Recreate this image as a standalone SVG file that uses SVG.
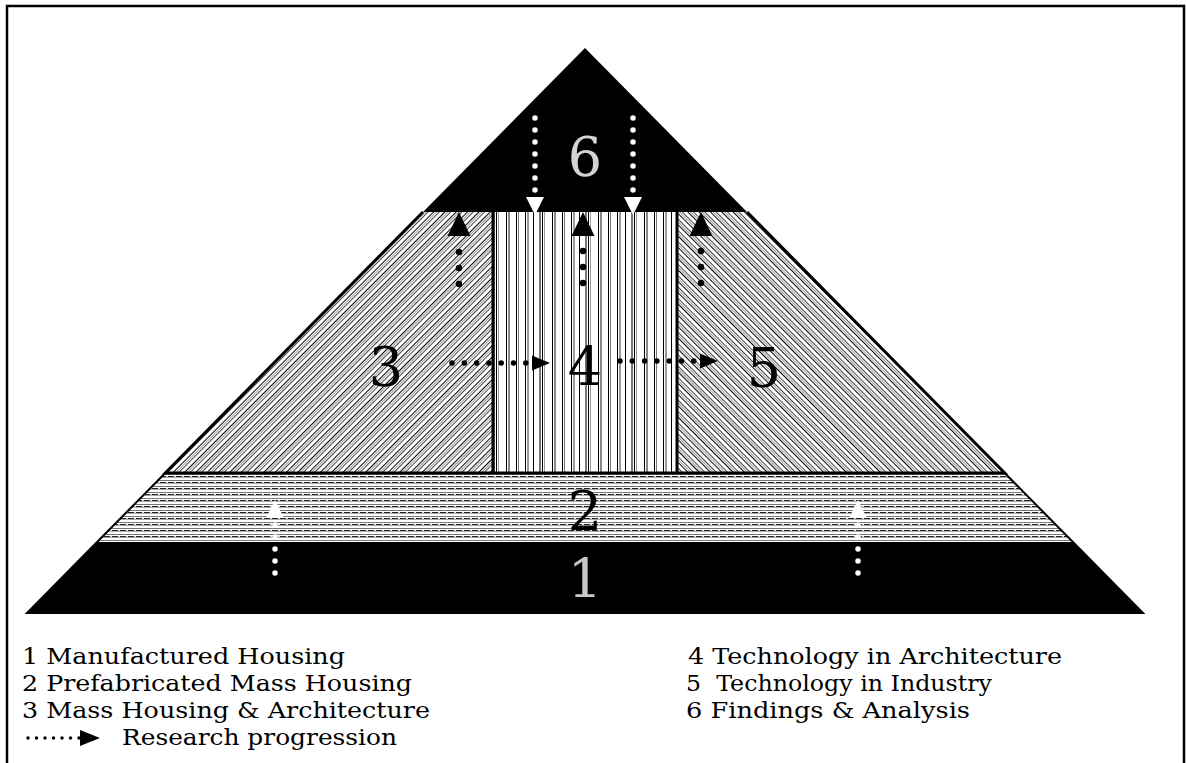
<svg xmlns="http://www.w3.org/2000/svg" width="1187" height="763" viewBox="0 0 1187 763">
<style>
.num{font-family:"DejaVu Serif","Liberation Serif",serif;font-size:54px;text-anchor:middle}
.leg{font-family:"DejaVu Serif","Liberation Serif",serif;font-size:23px;fill:#000}
.edge{fill:none;stroke:#000;stroke-width:3}
.dotB{fill:none;stroke:#000;stroke-linecap:round}
.dotW{fill:none;stroke:#fff;stroke-linecap:round}
</style>
<defs>
<pattern id="hatchL" patternUnits="userSpaceOnUse" width="8" height="8" patternTransform="rotate(45)">
<rect width="8" height="8" fill="#fff"/>
<rect x="0" y="0" width="1" height="8" fill="#000"/>
<rect x="2" y="0" width="1" height="8" fill="#999"/>
<rect x="4" y="0" width="1" height="8" fill="#444"/>
</pattern>
<pattern id="hatchR" patternUnits="userSpaceOnUse" width="8" height="8" patternTransform="rotate(-45)">
<rect width="8" height="8" fill="#fff"/>
<rect x="0" y="0" width="1" height="8" fill="#000"/>
<rect x="2" y="0" width="1" height="8" fill="#999"/>
<rect x="4" y="0" width="1" height="8" fill="#444"/>
</pattern>
<pattern id="vert" patternUnits="userSpaceOnUse" width="46" height="10" x="493">
<rect width="46" height="10" fill="#fff"/>
<rect x="0" width="2" height="10" fill="#777"/>
<rect x="3" width="1" height="10" fill="#000"/>
<rect x="5" width="1" height="10" fill="#999"/>
<rect x="13" width="1" height="10" fill="#000"/>
<rect x="15" width="2" height="10" fill="#888"/>
<rect x="23" width="1" height="10" fill="#000"/>
<rect x="25" width="1" height="10" fill="#777"/>
<rect x="32" width="1" height="10" fill="#000"/>
<rect x="34" width="2" height="10" fill="#999"/>
<rect x="40" width="1" height="10" fill="#000"/>
</pattern>
<pattern id="horiz" patternUnits="userSpaceOnUse" width="8" height="6" y="474">
<rect width="8" height="6" fill="#fff"/>
<rect y="0" width="8" height="1" fill="#777"/>
<rect y="2" width="6" height="1" fill="#222"/>
<rect x="6" y="2" width="2" height="1" fill="#ddd"/>
<rect y="3" width="8" height="1" fill="#aaa"/>
</pattern>
<marker id="headB" markerUnits="userSpaceOnUse" markerWidth="24" markerHeight="24" refX="0" refY="11" orient="auto" viewBox="0 0 23 22">
<path d="M0,0 L23,11 L0,22 z" fill="#000"/>
</marker>
<marker id="headBs" markerUnits="userSpaceOnUse" markerWidth="18" markerHeight="16" refX="0" refY="7" orient="auto" viewBox="0 0 17 14">
<path d="M0,0 L17,7 L0,14 z" fill="#000"/>
</marker>
<marker id="headW" markerUnits="userSpaceOnUse" markerWidth="18" markerHeight="18" refX="0" refY="8" orient="auto" viewBox="0 0 16 16">
<path d="M0,0 L16,8 L0,16 z" fill="#fff"/>
</marker>
<marker id="headL" markerUnits="userSpaceOnUse" markerWidth="20" markerHeight="16" refX="0" refY="7.5" orient="auto" viewBox="0 0 19 15">
<path d="M0,0 L19,7.5 L0,15 z" fill="#000"/>
</marker>
</defs>
<rect x="0" y="0" width="1187" height="763" fill="#fff"/>
<rect id="frame" x="7" y="6" width="1177" height="800" fill="none" stroke="#000" stroke-width="2.5"/>

<g id="level1">
<polygon points="97.1,542 1072.9,542 1143,613 27,613" fill="#000"/>
<text class="num" x="585" y="598" fill="#c8c8c8">1</text>
</g>
<g id="level2">
<polygon points="165.3,473 1004.7,473 1072.9,542 97.1,542" fill="url(#horiz)"/>
<text class="num" x="585" y="530" fill="#000">2</text>
</g>
<g id="level3">
<polygon points="423,212 493,212 493,473 165.3,473" fill="url(#hatchL)"/>
<text class="num" x="386" y="386" fill="#000">3</text>
</g>
<g id="level4">
<rect x="493" y="212" width="184" height="261" fill="url(#vert)"/>
<text class="num" x="585" y="386" fill="#000">4</text>
</g>
<g id="level5">
<polygon points="677,212 747,212 1004.7,473 677,473" fill="url(#hatchR)"/>
<text class="num" x="764" y="387" fill="#000">5</text>
</g>
<g id="level6">
<polygon points="585,48 747,212 423,212" fill="#000"/>
<text class="num" x="585" y="176" fill="#d4d4d4">6</text>
</g>
<g id="outlines">
<polyline class="edge" points="423,212 165.3,473 1004.7,473 747,212"/>
<line class="edge" x1="493" y1="212" x2="493" y2="473"/>
<line class="edge" x1="677" y1="212" x2="677" y2="473"/>
<polyline points="165.3,473 97.1,542 27,613 1143,613 1072.9,542 1004.7,473" fill="none" stroke="#000" stroke-width="2"/>
</g>

<g id="connectors">
<path class="dotB" d="M459,284 V236" stroke-width="6.5" stroke-dasharray="0 16" marker-end="url(#headB)"/>
<path class="dotB" d="M583,283 V236" stroke-width="6.5" stroke-dasharray="0 16" marker-end="url(#headB)"/>
<path class="dotB" d="M701,283 V236" stroke-width="6.5" stroke-dasharray="0 16" marker-end="url(#headB)"/>
<path class="dotB" d="M452,363 H532" stroke-width="5.5" stroke-dasharray="0 12.3" marker-end="url(#headBs)"/>
<path class="dotB" d="M620,361 H700" stroke-width="5.5" stroke-dasharray="0 12.3" marker-end="url(#headBs)"/>
<path class="dotW" d="M535,118 V197" stroke-width="5.5" stroke-dasharray="0 12" marker-end="url(#headW)"/>
<path class="dotW" d="M633,118 V197" stroke-width="5.5" stroke-dasharray="0 12" marker-end="url(#headW)"/>
<path class="dotW" d="M275,573 V518" stroke-width="5.5" stroke-dasharray="0 12" marker-end="url(#headW)"/>
<path class="dotW" d="M858,573 V518" stroke-width="5.5" stroke-dasharray="0 12" marker-end="url(#headW)"/>
</g>

<g id="legend">
<text class="leg" x="22" y="664" textLength="323" lengthAdjust="spacingAndGlyphs">1 Manufactured Housing</text>
<text class="leg" x="22" y="691" textLength="390" lengthAdjust="spacingAndGlyphs">2 Prefabricated Mass Housing</text>
<text class="leg" x="22" y="718" textLength="408" lengthAdjust="spacingAndGlyphs">3 Mass Housing &amp; Architecture</text>
<path class="dotB" d="M28,738 H80" stroke-width="3.5" stroke-dasharray="0 8.5" marker-end="url(#headL)"/>
<text class="leg" x="122" y="745" textLength="275" lengthAdjust="spacingAndGlyphs">Research progression</text>
<text class="leg" x="688" y="664" textLength="374" lengthAdjust="spacingAndGlyphs">4 Technology in Architecture</text>
<text class="leg" x="686" y="691" xml:space="preserve" textLength="306" lengthAdjust="spacingAndGlyphs">5  Technology in Industry</text>
<text class="leg" x="686" y="718" textLength="284" lengthAdjust="spacingAndGlyphs">6 Findings &amp; Analysis</text>
</g>
</svg>
